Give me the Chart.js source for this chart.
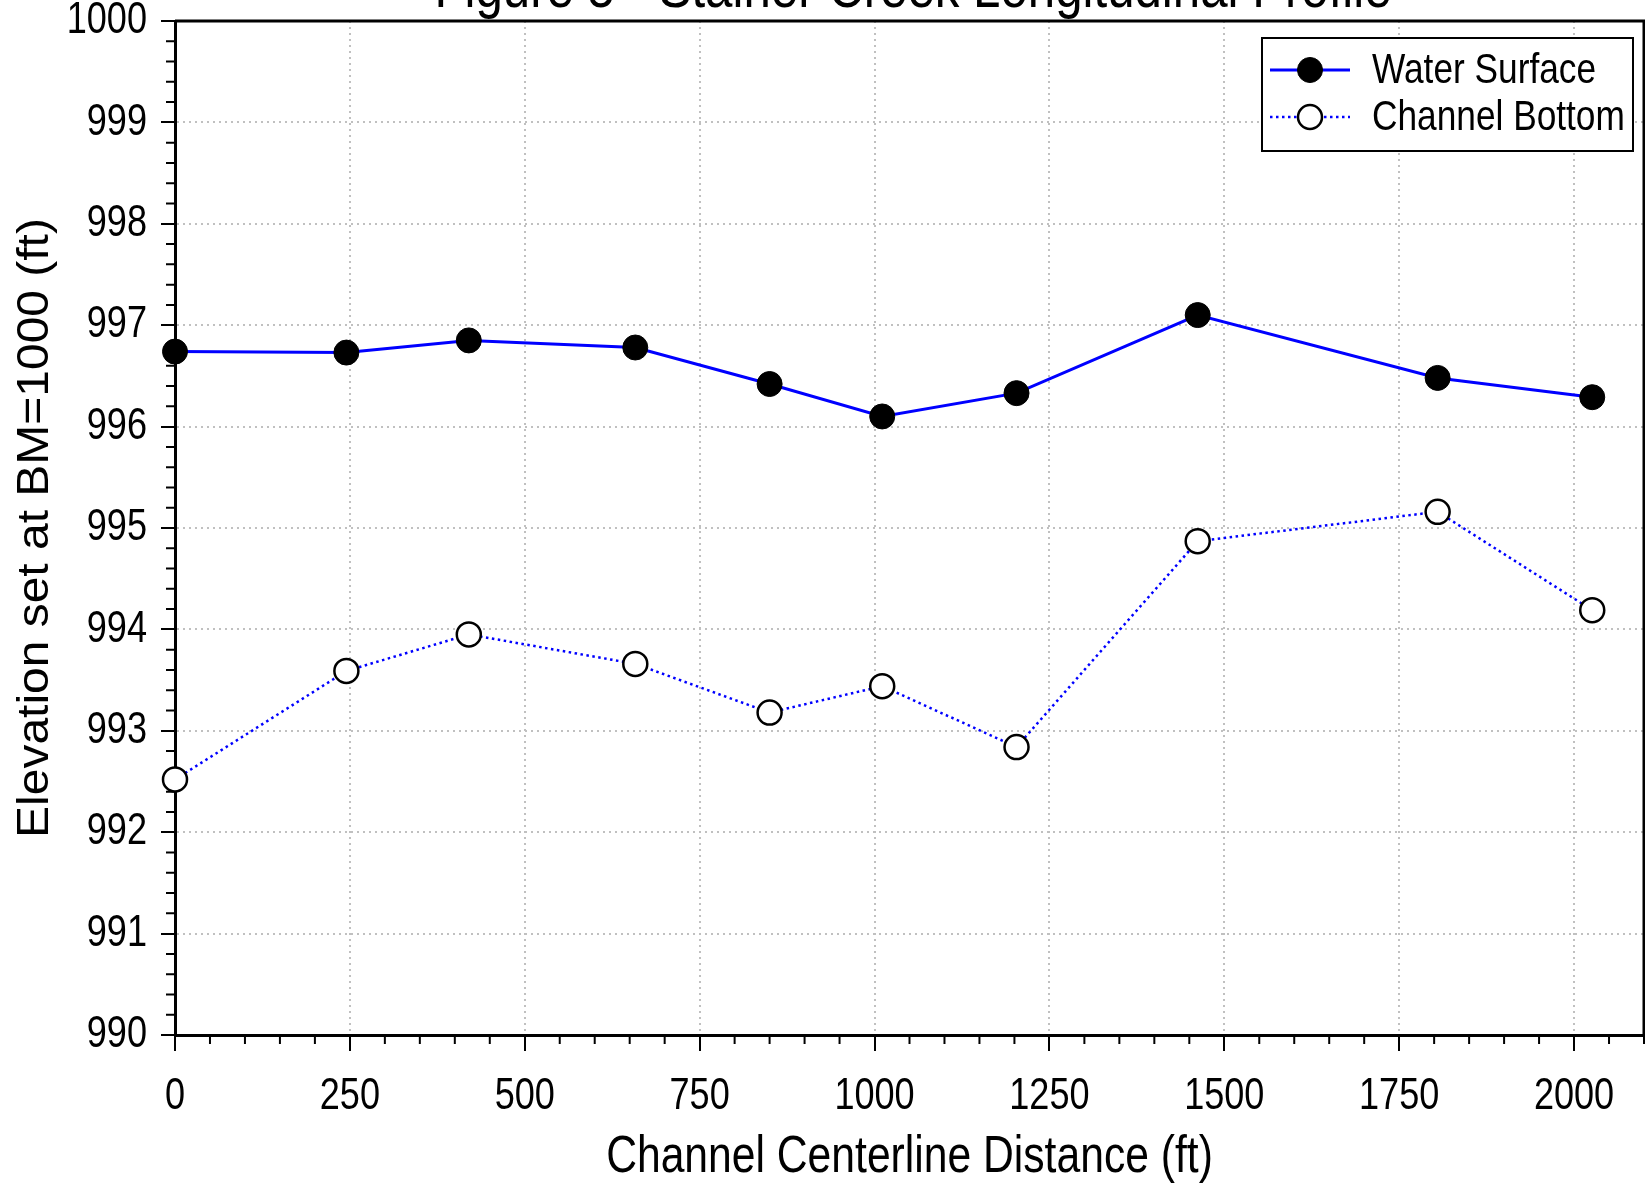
<!DOCTYPE html>
<html>
<head>
<meta charset="utf-8">
<title>Longitudinal Profile</title>
<script src="https://cdn.jsdelivr.net/npm/chart.js@4/dist/chart.umd.min.js"></script>
<style>
  html, body { margin: 0; padding: 0; background: #fff; }
  canvas { display: block; }
</style>
</head>
<body>
<canvas id="profileChart" width="1645" height="1185"></canvas>
<script>
// distance along channel centerline (ft)
const distances = [0, 245, 420, 658, 850, 1011, 1203, 1462, 1805, 2026];
const waterSurface = [996.74, 996.73, 996.85, 996.78, 996.42, 996.10, 996.33, 997.10, 996.48, 996.29];
const channelBottom = [992.52, 993.59, 993.95, 993.66, 993.18, 993.44, 992.84, 994.87, 995.16, 994.19];
const seriesNames = ['Water Surface', 'Channel Bottom'];
const chartTitle = 'Figure 5 - Stainer Creek Longitudinal Profile';

const FONT = "'Liberation Sans', Arial, sans-serif";
const NARROW = 0.82;   // horizontal text looks condensed in the original
const STRETCH = 1.09;  // ...while the rotated y title looks drawn out

const toPoints = (ys) => distances.map((x, i) => ({ x: x, y: ys[i] }));

const ctx = document.getElementById('profileChart').getContext('2d');

// squeeze / stretch text along its own direction around the anchor point
ctx.fillText = function (text, x, y) {
    const m = this.getTransform();
    const k = Math.abs(m.b) > 0.5 ? STRETCH : NARROW;
    this.save();
    this.translate(x, y);
    this.scale(k, 1);
    CanvasRenderingContext2D.prototype.fillText.call(this, text, 0, 0);
    this.restore();
};

// white background, frame, minor ticks, title and legend
const extras = {
    id: 'extras',
    beforeDraw(chart) {
        const c = chart.ctx;
        c.save();
        c.fillStyle = '#fff';
        c.fillRect(0, 0, chart.width, chart.height);
        c.restore();
    },
    beforeDatasetsDraw(chart) {
        const c = chart.ctx;
        const area = chart.chartArea;
        const xs = chart.scales.x, ys = chart.scales.y;
        c.save();
        c.strokeStyle = '#000';
        c.lineWidth = 2;
        // minor ticks
        c.beginPath();
        for (let v = 50; v <= 2100; v += 50) {
            if (v % 250 === 0) continue;
            const px = xs.getPixelForValue(v);
            c.moveTo(px, area.bottom);
            c.lineTo(px, area.bottom + 9);
        }
        for (let v = 990.2; v < 1000; v += 0.2) {
            if (Math.abs(v - Math.round(v)) < 0.01) continue;
            const py = ys.getPixelForValue(v);
            c.moveTo(area.left, py);
            c.lineTo(area.left - 9, py);
        }
        c.stroke();
        // top and right frame
        c.lineWidth = 3;
        c.beginPath();
        c.moveTo(area.left, area.top);
        c.lineTo(chart.width, area.top);
        c.moveTo(area.right, area.top);
        c.lineTo(area.right, area.bottom);
        c.stroke();
        c.restore();
    },
    afterDraw(chart) {
        const c = chart.ctx;
        c.save();
        // title, mostly cut off by the top edge
        c.fillStyle = '#000';
        c.font = '60px ' + FONT;
        c.textAlign = 'center';
        c.textBaseline = 'alphabetic';
        c.fillText(chartTitle, 913, 7);

        // legend
        const bx = 1262, by = 38, bw = 371, bh = 113;
        c.fillStyle = '#fff';
        c.fillRect(bx, by, bw, bh);
        c.strokeStyle = '#000';
        c.lineWidth = 2;
        c.strokeRect(bx, by, bw, bh);
        const rows = [70, 117];
        chart.data.datasets.forEach((ds, i) => {
            const y = rows[i];
            c.save();
            c.strokeStyle = ds.borderColor;
            c.lineWidth = ds.borderWidth;
            c.setLineDash(ds.borderDash || []);
            c.beginPath();
            c.moveTo(1270, y);
            c.lineTo(1350, y);
            c.stroke();
            c.restore();
            c.beginPath();
            c.arc(1310, y, ds.pointRadius, 0, Math.PI * 2);
            c.fillStyle = ds.pointBackgroundColor;
            c.fill();
            c.lineWidth = ds.pointBorderWidth;
            c.strokeStyle = ds.pointBorderColor;
            c.stroke();
            c.fillStyle = '#000';
            c.font = '43px ' + FONT;
            c.textAlign = 'left';
            c.textBaseline = 'middle';
            c.fillText(ds.label, 1372, y + 1);
        });
        c.restore();
    }
};

const chart = new Chart(ctx, {
    type: 'line',
    data: {
        datasets: [{
            label: seriesNames[0],
            data: toPoints(waterSurface),
            borderColor: '#0000ff',
            borderWidth: 3,
            pointRadius: 12.5,
            pointBackgroundColor: '#000',
            pointBorderColor: '#000',
            pointBorderWidth: 1,
            tension: 0,
            clip: false
        }, {
            label: seriesNames[1],
            data: toPoints(channelBottom),
            borderColor: '#0000ff',
            borderWidth: 2.5,
            borderDash: [2.5, 3.5],
            pointRadius: 12,
            pointBackgroundColor: '#fff',
            pointBorderColor: '#000',
            pointBorderWidth: 2.5,
            tension: 0,
            clip: false
        }]
    },
    options: {
        responsive: false,
        animation: false,
        devicePixelRatio: 1,
        layout: { autoPadding: false, padding: { left: 0, top: 21, right: 1, bottom: 0 } },
        plugins: {
            legend: { display: false },
            title: { display: false },
            tooltip: { enabled: false }
        },
        scales: {
            x: {
                type: 'linear',
                min: 0,
                max: 2100,
                afterFit: (s) => {
                    s.height = 150;
                    s.paddingLeft = 0;
                    s.paddingRight = 0;
                },
                ticks: {
                    stepSize: 250,
                    includeBounds: false,
                    padding: 19,
                    color: '#000',
                    font: { family: FONT, size: 44 },
                    maxRotation: 0,
                    callback: (v) => String(v)
                },
                grid: {
                    color: (c) => (c.tick && c.tick.value === 0) ? 'rgba(0,0,0,0)' : '#c0c0c0',
                    lineWidth: 2,
                    tickLength: 16,
                    tickColor: '#000',
                    tickWidth: 2
                },
                border: { display: true, color: '#000', width: 3, dash: [2, 4] },
                title: {
                    display: true,
                    text: 'Channel Centerline Distance (ft)',
                    color: '#000',
                    font: { family: FONT, size: 52, lineHeight: 1.05 },
                    padding: { top: 0, bottom: 0 }
                }
            },
            y: {
                type: 'linear',
                min: 990,
                max: 1000,
                afterFit: (s) => {
                    s.width = 175;
                    s.paddingTop = 0;
                    s.paddingBottom = 0;
                },
                ticks: {
                    stepSize: 1,
                    padding: 14,
                    color: '#000',
                    font: { family: FONT, size: 44 },
                    callback: (v) => String(v)
                },
                grid: {
                    color: (c) => (c.tick && (c.tick.value === 990 || c.tick.value === 1000)) ? 'rgba(0,0,0,0)' : '#c0c0c0',
                    lineWidth: 2,
                    tickLength: 14,
                    tickColor: '#000',
                    tickWidth: 2
                },
                border: { display: true, color: '#000', width: 3, dash: [2, 4] },
                title: {
                    display: true,
                    text: 'Elevation set at BM=1000 (ft)',
                    color: '#000',
                    font: { family: FONT, size: 44, lineHeight: 1.2 },
                    padding: { top: 9, bottom: 0 }
                }
            }
        }
    },
    plugins: [extras]
});
</script>
</body>
</html>
